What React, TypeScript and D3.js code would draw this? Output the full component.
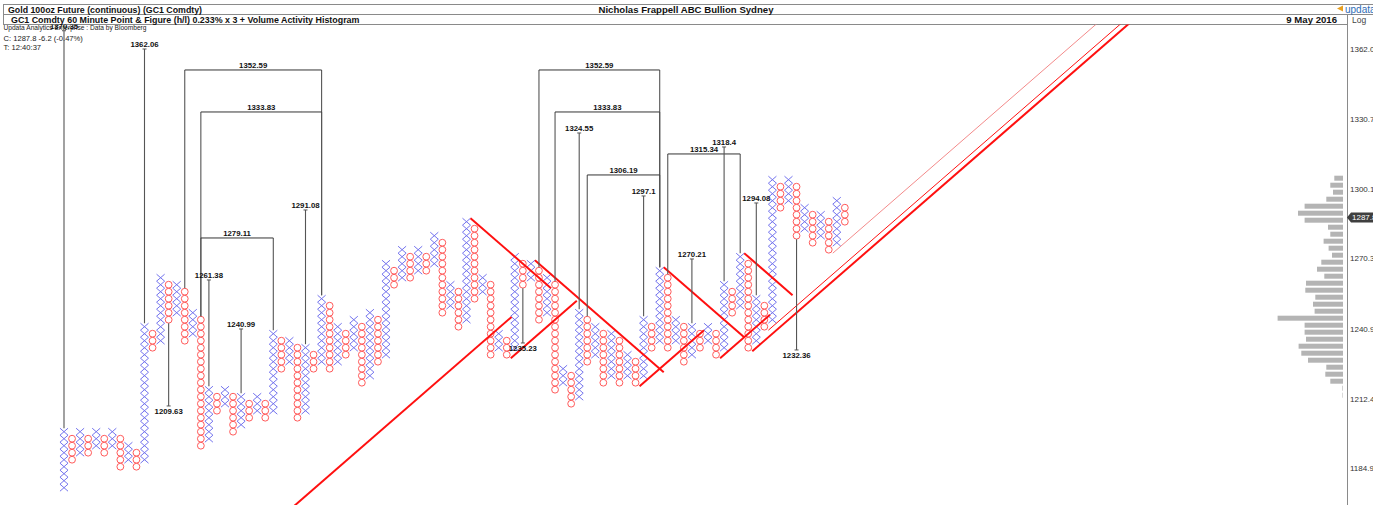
import React from 'react';
import * as d3 from 'd3';

const W = 1373;
const H = 505;

// point & figure settings: 0.233% box, 3 box reversal, log scale
const BOX_PCT = 0.233;
const BASE_PRICE = 1177.2; // price of box 0 (lowest box drawn)

// columns alternate X / O starting with X; values are box numbers
const colLow = [
  0, 4, 5, 5, 6, 5, 6, 3, 4, 3, 4, 20, 21, 24, 25, 21, 22, 6, 7, 11,
  12, 8, 9, 10, 11, 10, 11, 17, 18, 10, 11, 17, 18, 17, 18, 19, 20, 15, 16, 18,
  19, 29, 30, 30, 31, 31, 32, 25, 26, 23, 24, 27, 28, 19, 20, 19, 20, 29, 30, 24,
  25, 14, 15, 12, 13, 18, 19, 15, 16, 15, 16, 15, 16, 20, 21, 20, 21, 18, 19, 20,
  21, 19, 20, 25, 26, 20, 21, 23, 24, 40, 41, 36, 37, 35, 36, 34, 35, 38,
];
const colHigh = [
  8, 7, 8, 7, 8, 7, 8, 7, 6, 5, 23, 22, 30, 29, 29, 28, 25, 24, 14, 13,
  14, 13, 13, 12, 13, 12, 22, 21, 21, 20, 20, 19, 27, 26, 23, 22, 24, 23, 25, 24,
  32, 31, 34, 33, 34, 33, 36, 35, 29, 28, 38, 37, 30, 29, 22, 21, 33, 32, 32, 31,
  30, 29, 17, 16, 25, 24, 23, 22, 22, 21, 19, 18, 24, 23, 31, 30, 24, 23, 23, 22,
  23, 22, 29, 28, 33, 32, 27, 26, 44, 43, 44, 43, 40, 39, 39, 38, 41, 40,
];

// price objectives (vertical counts, with a bracket when counted across columns)
const targetPrice = [
  1370.35, 1362.06, 1352.59, 1333.83, 1279.11, 1261.38, 1209.63, 1240.99, 1291.08, 1235.23,
  1352.59, 1333.83, 1324.55, 1306.19, 1297.1, 1315.34, 1318.4, 1270.21, 1294.08, 1232.36,
];
const targetFrom = [0, 10, 15, 17, 17, 18, 13, 22, 30, 57, 59, 61, 64, 65, 72, 75, 82, 78, 86, 91];
const targetTo = [
  null, null, 32, 32, 26, null, null, null, null, null,
  74, 74, null, 74, null, 84, null, null, null, null,
];

// 45 degree trend lines: start column / box, length in columns, direction
const trendCol = [25.5, 55.5, 50.5, 58.5, 71.5, 74.5, 81.5, 84.5, 85.5, 87.5, 95.5];
const trendBox = [-5.7, 18.5, 38.5, 32.5, 14.5, 31.5, 18.5, 33.5, 19.5, 22.5, 33.5];
const trendLen = [30.1, 8.2, 10, 16, 8, 10, 6.2, 6, 55, 55, 50];
const trendDir = [1, 1, -1, -1, 1, -1, 1, -1, 1, 1, 1];
const trendKind = ['main', 'main', 'main', 'main', 'main', 'main', 'main', 'main', 'main', 'thin', 'pale'];

// volume activity histogram, from box 44 downward
const volumeTopBox = 44;
const volumes = [
  87, 127, 100, 167, 384, 450, 384, 150, 127, 194, 144, 110, 217, 260, 187, 370,
  377, 277, 300, 284, 654, 384, 384, 370, 444, 417, 350, 167, 177, 127, 6, 5,
];

const axisTicks = ['1362.06', '1330.74', '1300.14', '1270.34', '1240.94', '1212.44', '1184.94'];
const lastPrice = 1287.8;

const boxRatio = 1 + BOX_PCT / 100;
const boxPrice = (b: number) => BASE_PRICE * Math.pow(boxRatio, b);

const x = d3.scaleLinear().domain([0, 97]).range([64, 64 + 97 * 8.05]);
const y = d3.scaleLog().domain([boxPrice(0), boxPrice(60)]).range([487.7, 487.7 - 420]);
const yb = (b: number) => y(boxPrice(b));
const colW = x(1) - x(0);
const boxH = yb(0) - yb(1);
const volX = d3.scaleLinear().domain([0, d3.max(volumes)!]).range([0, 65.4]);

const FONT = '"Liberation Sans", Arial, sans-serif';
const X_COLOR = '#7474ee';
const O_COLOR = '#ff5a5a';

export default function App() {
  const cols = colLow.map((lo, i) => ({
    i,
    type: i % 2 === 0 ? 'X' : 'O',
    boxes: d3.range(lo, colHigh[i] + 1),
  }));

  const axisRight = 1347;

  return (
    <svg
      width={W}
      height={H}
      style={{ position: 'absolute', left: 0, top: 0, display: 'block', background: '#fff' }}
      fontFamily={FONT}
    >
      <defs>
        <clipPath id="plot">
          <rect x={0} y={24.5} width={axisRight} height={H - 24.5} />
        </clipPath>
      </defs>

      {/* header frame */}
      <g stroke="#8a8a8a" strokeWidth={1} shapeRendering="crispEdges">
        <line x1={3} x2={W} y1={4.5} y2={4.5} />
        <line x1={3} x2={W} y1={14.5} y2={14.5} />
        <line x1={3} x2={axisRight} y1={24.5} y2={24.5} />
        <line x1={3.5} x2={3.5} y1={4.5} y2={24.5} />
        <line x1={axisRight + 0.5} x2={axisRight + 0.5} y1={14.5} y2={H} />
      </g>
      <text x={8} y={12.5} fontSize={8.8} fontWeight="bold" fill="#111">
        Gold 100oz Future (continuous) (GC1 Comdty)
      </text>
      <text x={11} y={22.5} fontSize={8.9} fontWeight="bold" fill="#111">
        GC1 Comdty 60 Minute Point &amp; Figure (h/l) 0.233% x 3 + Volume Activity Histogram
      </text>
      <text x={686} y={12.5} fontSize={9.6} fontWeight="bold" fill="#111" textAnchor="middle">
        Nicholas Frappell ABC Bullion Sydney
      </text>
      <text x={1337} y={22.5} fontSize={9.6} fontWeight="bold" fill="#111" textAnchor="end">
        9 May 2016
      </text>
      <text x={1352} y={22.5} fontSize={8.5} fill="#444">Log</text>
      <path d="M1337,8.5 L1343,5.5 L1343,11.5 Z" fill="#e8a020" />
      <text x={1345} y={12.5} fontSize={10} fill="#2f6db5">updata</text>

      <text x={3.5} y={30} fontSize={6.6} fill="#222">Updata Analytics Enterprise : Data by Bloomberg</text>
      <text x={3.5} y={40.5} fontSize={7.6} fill="#222">C: 1287.8  -6.2 (-0.47%)</text>
      <text x={3.5} y={49.5} fontSize={7.6} fill="#222">T: 12:40:37</text>

      {/* volume activity histogram */}
      <g fill="#b4b4b4">
        {volumes.map((v, k) => {
          const b = volumeTopBox - k;
          const w = volX(v);
          return <rect key={k} x={axisRight - 4 - w} y={yb(b) - 4} width={w} height={5} />;
        })}
      </g>

      {/* right price axis */}
      {axisTicks.map((t) => (
        <text key={t} x={axisRight + 3} y={y(+t)} dy="0.35em" fontSize={8} fill="#333">
          {t}
        </text>
      ))}
      <path
        d={`M${axisRight},${y(lastPrice)} l4,-5 H${W} v10 H${axisRight + 4} Z`}
        fill="#3f3f3f"
      />
      <text x={axisRight + 5} y={y(lastPrice)} dy="0.35em" fontSize={8} fill="#fff">
        {lastPrice}
      </text>

      <g clipPath="url(#plot)">
        {/* X and O columns */}
        {cols.map((c) => (
          <g key={c.i}>
            {c.boxes.map((b) => {
              const cx = x(c.i);
              const cy = yb(b);
              if (c.type === 'X') {
                const hw = colW / 2;
                const hh = boxH / 2;
                return (
                  <path
                    key={b}
                    d={`M${cx - hw},${cy - hh}L${cx + hw},${cy + hh}M${cx + hw},${cy - hh}L${cx - hw},${cy + hh}`}
                    stroke={X_COLOR}
                    strokeWidth={1}
                    fill="none"
                  />
                );
              }
              return <circle key={b} cx={cx} cy={cy} r={boxH / 2 - 0.1} stroke={O_COLOR} strokeWidth={1} fill="none" />;
            })}
          </g>
        ))}

        {/* trend lines */}
        {trendCol.map((c0, k) => {
          const c1 = c0 + trendLen[k];
          const b1 = trendBox[k] + trendLen[k] * trendDir[k];
          const kind = trendKind[k];
          return (
            <line
              key={k}
              x1={x(c0)}
              y1={yb(trendBox[k] - 0.5) - boxH / 2}
              x2={x(c1)}
              y2={yb(b1 - 0.5) - boxH / 2}
              stroke={kind === 'pale' ? '#f38a8a' : '#ff1010'}
              strokeWidth={kind === 'main' ? 2 : 1}
            />
          );
        })}

        {/* price objectives */}
        {targetPrice.map((p, k) => {
          const from = targetFrom[k];
          const to = targetTo[k];
          const up = p > boxPrice(colHigh[from]);
          const ty = y(p);
          const edge = (ci: number) => (up ? yb(colHigh[ci] + 0.5) : yb(colLow[ci] - 0.5));
          const label = String(p);
          if (to !== null) {
            const xa = x(from);
            const xb = x(to);
            return (
              <g key={k}>
                <line x1={xa} x2={xa} y1={edge(from)} y2={ty} stroke="#555" strokeWidth={1.1} />
                <line x1={xb} x2={xb} y1={edge(to)} y2={ty} stroke="#555" strokeWidth={1.1} />
                <line x1={xa} x2={xb} y1={ty} y2={ty} stroke="#333" strokeWidth={1} />
                <text x={(xa + xb) / 2} y={ty - 1.5} fontSize={7.8} fontWeight="bold" textAnchor="middle" fill="#111">
                  {label}
                </text>
              </g>
            );
          }
          const xa = x(from);
          return (
            <g key={k}>
              <line x1={xa} x2={xa} y1={edge(from)} y2={ty} stroke="#555" strokeWidth={1.1} />
              <line x1={xa - 2} x2={xa + 2} y1={ty} y2={ty} stroke="#555" strokeWidth={1} />
              <text
                x={xa}
                y={up ? ty - 1.5 : ty + 8}
                fontSize={7.8}
                fontWeight="bold"
                textAnchor="middle"
                fill="#111"
              >
                {label}
              </text>
            </g>
          );
        })}
      </g>
    </svg>
  );
}
